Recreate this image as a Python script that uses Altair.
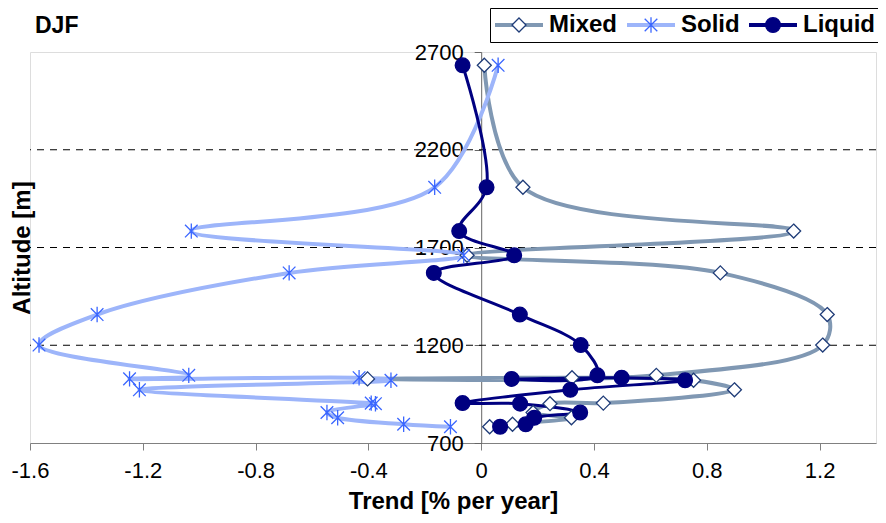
import altair as alt
import pandas as pd

# ---------------- data ----------------
series_names = ["Mixed", "Solid", "Liquid"]
altitude = [2632, 2008, 1784, 1660, 1570, 1357, 1201, 1046, 1028, 1034, 1021,
            972, 904, 901, 856, 829, 796, 783]
mixed = [0.011, 0.148, 1.108, -0.05, 0.848, 1.227, 1.211, 0.621, -0.403, 0.322,
         0.753, 0.898, 0.433, 0.244, 0.184, 0.320, 0.111, 0.030]
solid = [0.060, -0.165, -1.028, -0.062, -0.681, -1.362, -1.568, -1.037, -1.247,
         -0.433, -0.320, -1.212, -0.390, -0.375, -0.547, -0.509, -0.275, -0.109]
liquid = [-0.066, 0.019, -0.078, 0.117, -0.168, 0.137, 0.353, 0.412, 0.108,
          0.498, 0.723, 0.316, -0.066, 0.138, 0.351, 0.188, 0.158, 0.067]
x_ticks = [-1.6, -1.2, -0.8, -0.4, 0, 0.4, 0.8, 1.2]
y_ticks = [700, 1200, 1700, 2200, 2700]
grid_values = [1200, 1700, 2200]
panel_label = ["DJF"]

rows = []
for name, vals in zip(series_names, [mixed, solid, liquid]):
    for i, (a, v) in enumerate(zip(altitude, vals)):
        rows.append({"series": name, "series_l": name, "altitude": a,
                     "trend": v, "idx": i})
df = pd.DataFrame(rows)

# ---------------- styling ----------------
FONT = "Liberation Sans"
W, H = 846, 391
X_DOMAIN = [-1.6, 1.4]
Y_DOMAIN = [700, 2700]
axis_pos = W * (0 - X_DOMAIN[0]) / (X_DOMAIN[1] - X_DOMAIN[0])

line_colors = ["#8098B3", "#9DB5FA", "#000080"]
marker_stroke = ["#1F3C78", "#3A66FF", "#000080"]
marker_fill = ["white", "transparent", "#000080"]

U = 7.0                      # custom path unit in px  (sqrt(size)/2)
SIZE = (2 * U) ** 2
SW = 1.3                     # same stroke width for both legends
hl = f"{24 / U:.4f}"         # half legend line length in units (same string)
ext = f"M-{hl},0M{hl},0"     # invisible extent: both legends lay out alike
diamond = ext + "M0,-1L1,0L0,1L-1,0Z"
star = ext + "M-0.9,-0.9L0.9,0.9M-0.9,0.9L0.9,-0.9M0,-1.1L0,1.1"
circle = ext + "M-1.05,0A1.05,1.05,0,1,0,1.05,0A1.05,1.05,0,1,0,-1.05,0Z"
# thick legend line built from parallel thin strokes (about 4 px wide)
line_sym = "".join(f"M-{hl},{dy / U:.4f}L{hl},{dy / U:.4f}"
                   for dy in (-1.35, -0.45, 0.45, 1.35))

xscale = alt.Scale(domain=X_DOMAIN, nice=False, zero=False)
yscale = alt.Scale(domain=Y_DOMAIN, nice=False, zero=False)

x_axis = alt.Axis(values=x_ticks, labelExpr="toString(datum.value)",
                  title="Trend [% per year]", grid=False,
                  domainColor="#808080", tickColor="#808080", tickSize=7,
                  labelPadding=10, labelFont=FONT, labelFontSize=22,
                  labelColor="black", labelFlush=False, labelOverlap=False,
                  titleFont=FONT, titleFontSize=24, titleFontWeight="bold",
                  titleColor="black", titlePadding=8)
y_axis = alt.Axis(values=y_ticks, format="d", offset=-axis_pos, grid=False,
                  domainColor="#666666", tickColor="#666666", tickSize=7,
                  labelPadding=11, labelFont=FONT, labelFontSize=22,
                  labelColor="black", labelOverlap=False,
                  title="Altitude [m]", titleX=-(axis_pos + 8), titleY=H / 2,
                  titleAngle=270, titleAlign="center", titleBaseline="middle",
                  titleFont=FONT, titleFontSize=24, titleFontWeight="bold",
                  titleColor="black")

X = alt.X("trend:Q", scale=xscale, axis=x_axis)
Y = alt.Y("altitude:Q", scale=yscale, axis=y_axis)

LEG_X, LEG_Y = 460, -44
common_leg = dict(orient="none", legendX=LEG_X, legendY=LEG_Y,
                  direction="horizontal", title=None, symbolSize=SIZE,
                  symbolOffset=12, labelOffset=18, columnPadding=6,
                  padding=5, labelFont=FONT, labelFontSize=24,
                  labelFontWeight="bold", labelColor="black", labelLimit=0,
                  symbolStrokeWidth=SW)

line_legend = alt.Legend(symbolType=line_sym, labelOpacity=0, zindex=0,
                         **common_leg)
marker_legend = alt.Legend(strokeColor="black", zindex=1, **common_leg)

grid = alt.Chart(pd.DataFrame({"g": grid_values})).mark_rule(
    color="black", strokeDash=[7, 6], strokeWidth=1
).encode(y=alt.Y("g:Q", scale=yscale, axis=y_axis))

lines = alt.Chart(df).mark_line(interpolate="catmull-rom").encode(
    x=X, y=Y, order="idx:Q",
    color=alt.Color("series_l:N", sort=series_names,
                    scale=alt.Scale(range=line_colors), legend=line_legend),
    strokeWidth=alt.condition("datum.series == 'Liquid'", alt.value(3), alt.value(4)),
)

points = alt.Chart(df).mark_point(size=SIZE, strokeWidth=SW, opacity=1).encode(
    x=X, y=Y,
    shape=alt.Shape("series:N", scale=alt.Scale(domain=series_names,
                    range=[diamond, star, circle]), legend=marker_legend),
    fill=alt.Fill("series:N", scale=alt.Scale(domain=series_names,
                  range=marker_fill), legend=marker_legend),
    stroke=alt.Stroke("series:N", scale=alt.Scale(domain=series_names,
                      range=marker_stroke), legend=marker_legend),
)

label = alt.Chart(pd.DataFrame({"t": panel_label})).mark_text(
    font=FONT, fontSize=23, fontWeight="bold", color="black",
    align="left", baseline="alphabetic"
).encode(text="t:N", x=alt.value(5), y=alt.value(-19))

chart = alt.layer(grid, lines, points, label).properties(
    width=W, height=H,
    padding={"left": 22, "top": 44, "right": 2, "bottom": 72},
    autosize=alt.AutoSizeParams(type="none"),
).configure_view(stroke="#8a8a8a", strokeWidth=1).configure(background="white")

chart.save("out.html", embed_options={"renderer": "svg", "actions": False})
